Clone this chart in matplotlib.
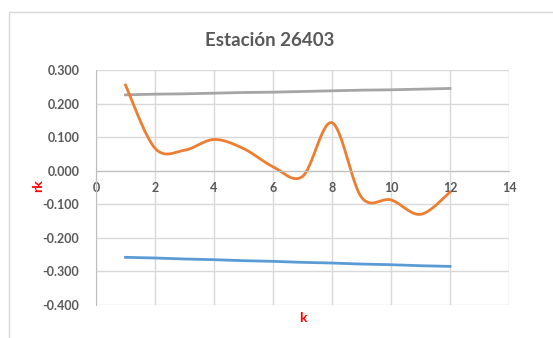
import numpy as np
import matplotlib.pyplot as plt
from matplotlib.patches import Rectangle

# lag k and autocorrelation values
k = [1, 2, 3, 4, 5, 6, 7, 8, 9, 10, 11, 12]
rk = [0.255, 0.067, 0.061, 0.093, 0.066, 0.012, -0.017, 0.143, -0.079, -0.087, -0.130, -0.064]
upper = [0.226, 0.228, 0.229, 0.231, 0.233, 0.234, 0.236, 0.238, 0.240, 0.241, 0.243, 0.245]
lower = [-0.258, -0.260, -0.263, -0.265, -0.268, -0.270, -0.273, -0.275, -0.278, -0.280, -0.283, -0.285]

yticks = [0.3, 0.2, 0.1, 0.0, -0.1, -0.2, -0.3, -0.4]
xticks = [0, 2, 4, 6, 8, 10, 12, 14]


def smooth(x, y, n=30):
    # Catmull-Rom style smoothing through every point
    x = np.asarray(x, float)
    y = np.asarray(y, float)
    px = np.concatenate([[x[0]], x, [x[-1]]])
    py = np.concatenate([[y[0]], y, [y[-1]]])
    xs, ys = [], []
    t = np.linspace(0, 1, n)
    for i in range(1, len(px) - 2):
        p0 = np.array([px[i - 1], py[i - 1]])
        p1 = np.array([px[i], py[i]])
        p2 = np.array([px[i + 1], py[i + 1]])
        p3 = np.array([px[i + 2], py[i + 2]])
        c1 = p1 + (p2 - p0) / 6
        c2 = p2 - (p3 - p1) / 6
        b = (np.outer((1 - t) ** 3, p1) + np.outer(3 * (1 - t) ** 2 * t, c1)
             + np.outer(3 * (1 - t) * t ** 2, c2) + np.outer(t ** 3, p2))
        xs.extend(b[:, 0])
        ys.extend(b[:, 1])
    return xs, ys


plt.rcParams['font.family'] = ['Lato', 'DejaVu Sans']
txt = '#595959'
grid = '#d9d9d9'

fig = plt.figure(figsize=(5.53, 3.38), dpi=100)
fig.patches.append(Rectangle((9 / 553, -0.1), 1.2, 1 - 12 / 338 + 0.1,
                             transform=fig.transFigure, fill=False,
                             edgecolor='#d9d9d9', linewidth=1))
ax = fig.add_axes([96 / 553, 1 - 305 / 338, 413 / 553, 235 / 338])

ax.plot(k, upper, color='#a5a5a5', linewidth=2)
ax.plot(k, lower, color='#5b9bd5', linewidth=2)
sx, sy = smooth(k, rk)
ax.plot(sx, sy, color='#ed7d31', linewidth=2)

ax.set_xlim(0, 14)
ax.set_ylim(-0.4, 0.3)
ax.set_xticks(xticks)
ax.set_yticks(yticks)
ax.set_yticklabels(['%.3f' % v for v in yticks])
ax.grid(True, color=grid, linewidth=1)
ax.set_axisbelow(True)
for s in ['top', 'right']:
    ax.spines[s].set_visible(False)
ax.spines['bottom'].set_position(('data', 0))
ax.spines['bottom'].set_color('#bfbfbf')
ax.spines['left'].set_color('#bfbfbf')
ax.tick_params(length=0, labelsize=9, labelcolor=txt)
for lab in ax.get_xticklabels() + ax.get_yticklabels():
    lab.set_fontweight('bold')
ax.tick_params(axis='x', pad=8)
ax.tick_params(axis='y', pad=12)

fig.text(270 / 553, 1 - 40 / 338, 'Estación 26403', ha='center', va='center',
         fontsize=13.5, fontweight='bold', color=txt)
fig.text(38 / 553, 1 - 186 / 338, 'rk', ha='center', va='center', rotation=90,
         fontsize=10, fontweight='bold', color='red')
fig.text(303 / 553, 1 - 318 / 338, 'k', ha='center', va='center',
         fontsize=10, fontweight='bold', color='red')

fig.savefig('out.png', dpi=100)
